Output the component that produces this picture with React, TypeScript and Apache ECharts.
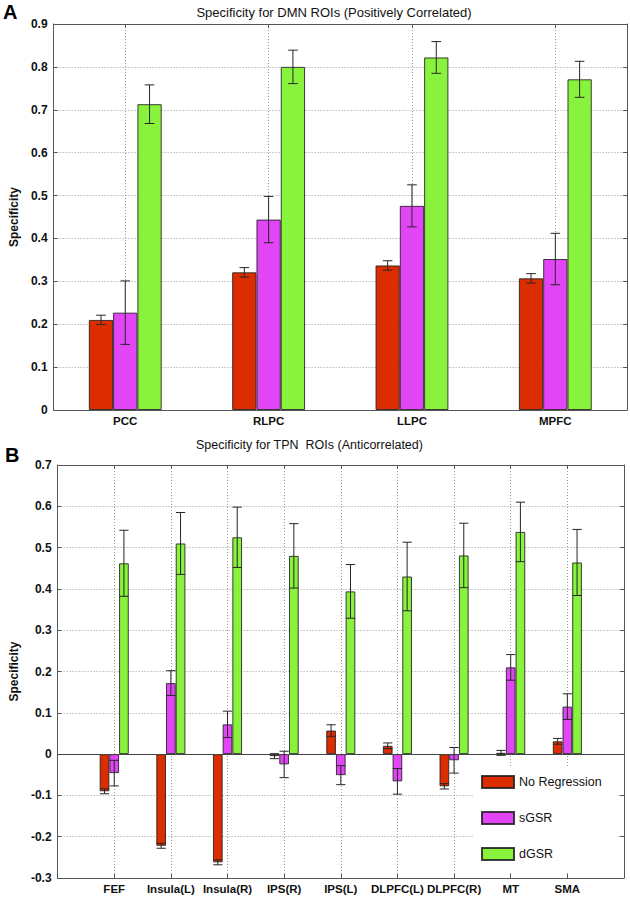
import React, { useEffect, useRef } from "react";
import * as echarts from "echarts";

// ---- Panel A: DMN ROIs (positively correlated) ----
const dmnCategories = ["PCC", "RLPC", "LLPC", "MPFC"];
const dmnNoReg = [0.21, 0.321, 0.337, 0.307];
const dmnNoRegErr = [0.011, 0.011, 0.011, 0.011];
const dmnSGSR = [0.227, 0.444, 0.476, 0.352];
const dmnSGSRErr = [0.074, 0.054, 0.049, 0.06];
const dmnDGSR = [0.713, 0.8, 0.822, 0.771];
const dmnDGSRErr = [0.045, 0.039, 0.037, 0.042];
const dmnYTicks = { min: 0, max: 0.9, interval: 0.1 };

// ---- Panel B: TPN ROIs (anticorrelated) ----
const tpnCategories = ["FEF", "Insula(L)", "Insula(R)", "IPS(R)", "IPS(L)", "DLPFC(L)", "DLPFC(R)", "MT", "SMA"];
const tpnNoReg = [-0.09, -0.222, -0.262, -0.005, 0.057, 0.02, -0.078, 0.003, 0.031];
const tpnNoRegErr = [0.006, 0.006, 0.006, 0.006, 0.014, 0.007, 0.0065, 0.006, 0.007];
const tpnSGSR = [-0.046, 0.172, 0.072, -0.025, -0.051, -0.066, -0.015, 0.21, 0.115];
const tpnSGSRErr = [0.031, 0.03, 0.032, 0.032, 0.023, 0.031, 0.031, 0.031, 0.031];
const tpnDGSR = [0.462, 0.51, 0.525, 0.48, 0.394, 0.43, 0.481, 0.538, 0.464];
const tpnDGSRErr = [0.08, 0.075, 0.073, 0.078, 0.065, 0.083, 0.078, 0.072, 0.08];
const tpnYTicks = { min: -0.3, max: 0.7, interval: 0.1 };

const seriesNames = ["No Regression", "sGSR", "dGSR"];
const colors = ["#dc2d00", "#e145f5", "#88f23c"];

const FONT = "Liberation Sans, Arial, Helvetica, sans-serif";
const AXIS_COLOR = "#555";
const TEXT_COLOR = "#111";

export default function App() {
  const ref = useRef<HTMLDivElement>(null);

  useEffect(() => {
    if (!ref.current) return;
    const chart = echarts.init(ref.current, null, { renderer: "svg" });

    // Panel A axis: categories sit at odd positions, half-band margins at each end
    const dmnAxis: string[] = [""];
    dmnCategories.forEach((c) => dmnAxis.push(c, ""));
    const dmnPos = (i: number) => 2 * i + 1;
    const dmnShow = (idx: number) => idx % 2 === 1;

    // Panel B axis: one empty slot at each end
    const tpnAxis: string[] = ["", ...tpnCategories, ""];
    const tpnPos = (i: number) => i + 1;
    const tpnShow = (idx: number) => idx >= 1 && idx <= tpnCategories.length;

    const place = (vals: number[], len: number, pos: (i: number) => number) => {
      const out: (number | null)[] = new Array(len).fill(null);
      vals.forEach((v, i) => (out[pos(i)] = v));
      return out;
    };
    const errData = (vals: number[], errs: number[], pos: (i: number) => number) =>
      vals.map((v, i) => [pos(i), v - errs[i], v + errs[i]]);

    const fmt = (v: number) => {
      const r = Math.round(v * 10) / 10;
      return r === 0 ? "0" : String(r);
    };

    const gridLine = { show: true, lineStyle: { color: "#9a9a9a", type: [1, 2], width: 1 } };

    const makeXAxes = (gridIndex: number, data: string[], show: (i: number) => boolean) => [
      {
        type: "category",
        gridIndex,
        data,
        boundaryGap: false,
        position: "bottom",
        axisLine: { show: true, onZero: false, lineStyle: { color: AXIS_COLOR, width: 1 } },
        axisTick: { show: true, inside: true, length: 4, interval: (i: number) => show(i), lineStyle: { color: AXIS_COLOR } },
        axisLabel: { interval: 0, color: TEXT_COLOR, fontSize: 11.5, fontWeight: "bold", fontFamily: FONT, margin: 5 },
        splitLine: { ...gridLine, interval: (i: number) => show(i) },
      },
      {
        type: "category",
        gridIndex,
        data,
        boundaryGap: false,
        position: "top",
        axisLine: { show: true, onZero: false, lineStyle: { color: AXIS_COLOR, width: 1 } },
        axisTick: { show: true, inside: true, length: 4, interval: (i: number) => show(i), lineStyle: { color: AXIS_COLOR } },
        axisLabel: { show: false },
        splitLine: { show: false },
      },
    ];

    const makeYAxes = (gridIndex: number, t: { min: number; max: number; interval: number }) => [
      {
        type: "value",
        gridIndex,
        min: t.min,
        max: t.max,
        interval: t.interval,
        position: "left",
        name: "Specificity",
        nameLocation: "middle",
        nameGap: 26,
        nameRotate: 90,
        nameTextStyle: { color: TEXT_COLOR, fontSize: 12, fontWeight: "bold", fontFamily: FONT },
        axisLine: { show: true, onZero: false, lineStyle: { color: AXIS_COLOR, width: 1 } },
        axisTick: { show: true, inside: true, length: 4, lineStyle: { color: AXIS_COLOR } },
        axisLabel: { color: TEXT_COLOR, fontSize: 12, fontWeight: "bold", fontFamily: FONT, margin: 6, formatter: fmt },
        splitLine: gridLine,
      },
      {
        type: "value",
        gridIndex,
        min: t.min,
        max: t.max,
        interval: t.interval,
        position: "right",
        axisLine: { show: true, onZero: false, lineStyle: { color: AXIS_COLOR, width: 1 } },
        axisTick: { show: true, inside: true, length: 4, lineStyle: { color: AXIS_COLOR } },
        axisLabel: { show: false },
        splitLine: { show: false },
      },
    ];

    const errRender = (offset: number, capHalf: number) => (params: any, api: any) => {
      const x0 = api.value(0);
      const lo = api.coord([x0, api.value(1)]);
      const hi = api.coord([x0, api.value(2)]);
      const x = lo[0] + offset;
      const style = { stroke: "#262626", lineWidth: 1 };
      return {
        type: "group",
        children: [
          { type: "line", shape: { x1: x, y1: lo[1], x2: x, y2: hi[1] }, style },
          { type: "line", shape: { x1: x - capHalf, y1: lo[1], x2: x + capHalf, y2: lo[1] }, style },
          { type: "line", shape: { x1: x - capHalf, y1: hi[1], x2: x + capHalf, y2: hi[1] }, style },
        ],
      };
    };

    const series: any[] = [];
    const addPanel = (
      axisIdx: number,
      len: number,
      pos: (i: number) => number,
      vals: number[][],
      errs: number[][],
      barWidth: number,
      capHalf: number,
      zeroLine: boolean
    ) => {
      vals.forEach((v, k) => {
        series.push({
          type: "bar",
          name: seriesNames[k],
          xAxisIndex: axisIdx,
          yAxisIndex: axisIdx,
          data: place(v, len, pos),
          barWidth,
          barGap: "0%",
          itemStyle: { color: colors[k], borderColor: "rgba(30,30,30,0.85)", borderWidth: 1 },
          z: 2,
          markLine:
            zeroLine && k === 0
              ? {
                  silent: true,
                  symbol: "none",
                  label: { show: false },
                  lineStyle: { color: "#444", type: "solid", width: 1 },
                  data: [{ yAxis: 0 }],
                }
              : undefined,
        });
      });
      errs.forEach((e, k) => {
        series.push({
          type: "custom",
          name: "err" + axisIdx + "_" + k,
          xAxisIndex: axisIdx,
          yAxisIndex: axisIdx,
          silent: true,
          z: 5,
          encode: { x: 0, y: [1, 2] },
          data: errData(vals[k], e, pos),
          renderItem: errRender((k - 1) * barWidth, capHalf),
        });
      });
    };

    addPanel(0, dmnAxis.length, dmnPos, [dmnNoReg, dmnSGSR, dmnDGSR], [dmnNoRegErr, dmnSGSRErr, dmnDGSRErr], 24.3, 4.8, false);
    addPanel(2, tpnAxis.length, tpnPos, [tpnNoReg, tpnSGSR, tpnDGSR], [tpnNoRegErr, tpnSGSRErr, tpnDGSRErr], 9.7, 4.6, true);

    chart.setOption({
      animation: false,
      backgroundColor: "#fff",
      grid: [
        { left: 48, top: 24, width: 579, height: 386 },
        { left: 48, top: 465, width: 576, height: 413 },
      ],
      xAxis: [...makeXAxes(0, dmnAxis, dmnShow), ...makeXAxes(1, tpnAxis, tpnShow)],
      yAxis: [...makeYAxes(0, dmnYTicks), ...makeYAxes(1, tpnYTicks)],
      legend: {
        data: seriesNames,
        orient: "vertical",
        left: 473,
        top: 768,
        padding: [7, 16, 12, 8],
        itemGap: 22,
        itemWidth: 32,
        itemHeight: 12,
        icon: "rect",
        selectedMode: false,
        backgroundColor: "#fff",
        textStyle: { color: TEXT_COLOR, fontSize: 12.5, fontFamily: FONT },
      },
      graphic: [
        {
          type: "text",
          x: 334,
          y: 12,
          style: {
            text: "Specificity for DMN ROIs (Positively Correlated)",
            fill: TEXT_COLOR,
            fontSize: 13,
            fontFamily: FONT,
            textAlign: "center",
            textVerticalAlign: "middle",
          },
        },
        {
          type: "text",
          x: 196,
          y: 445,
          style: {
            text: "Specificity for TPN  ROIs (Anticorrelated)",
            fill: TEXT_COLOR,
            fontSize: 12.5,
            fontFamily: FONT,
            textAlign: "left",
            textVerticalAlign: "middle",
          },
        },
        {
          type: "text",
          x: 3,
          y: 12,
          style: { text: "A", fill: "#000", fontSize: 20, fontWeight: "bold", fontFamily: FONT, textAlign: "left", textVerticalAlign: "middle" },
        },
        {
          type: "text",
          x: 5,
          y: 455,
          style: { text: "B", fill: "#000", fontSize: 20, fontWeight: "bold", fontFamily: FONT, textAlign: "left", textVerticalAlign: "middle" },
        },
      ],
      series,
    });

    return () => chart.dispose();
  }, []);

  return <div ref={ref} style={{ position: "absolute", left: 0, top: 0, width: 630, height: 898 }} />;
}
